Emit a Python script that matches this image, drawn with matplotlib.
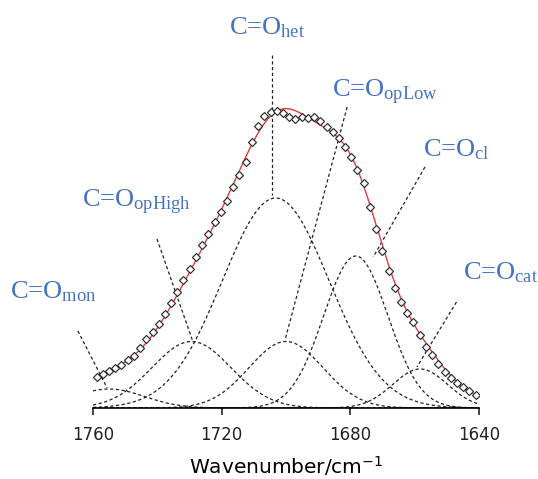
import numpy as np
import matplotlib.pyplot as plt

plt.rcParams['mathtext.fontset'] = 'custom'
plt.rcParams['mathtext.rm'] = 'Liberation Serif'
plt.rcParams['mathtext.it'] = 'Liberation Serif:italic'

# measured spectrum (wavenumber in cm-1, absorbance in arbitrary units)
wavenumber = [1758.9, 1757.0, 1755.0, 1753.1, 1751.2, 1749.2, 1747.3, 1745.4,
              1743.4, 1741.5, 1739.6, 1737.6, 1735.7, 1733.8, 1731.9, 1729.9,
              1728.0, 1726.1, 1724.1, 1722.2, 1720.3, 1718.3, 1716.4, 1714.5,
              1712.5, 1710.6, 1708.7, 1706.7, 1704.8, 1702.9, 1700.9, 1699.0,
              1697.1, 1695.1, 1693.2, 1691.3, 1689.3, 1687.4, 1685.5, 1683.6,
              1681.6, 1679.7, 1677.8, 1675.8, 1673.9, 1672.0, 1670.0, 1668.1,
              1666.2, 1664.2, 1662.3, 1660.4, 1658.4, 1656.5, 1654.6, 1652.6,
              1650.7, 1648.8, 1646.8, 1644.9, 1643.0, 1641.0]
absorbance = [31.3, 34.0, 37.0, 40.3, 43.3, 47.7, 52.3, 59.7, 68.7, 75.7,
              83.7, 93.7, 104.7, 116.3, 128.0, 139.0, 151.3, 163.0, 173.7, 185.7,
              195.7, 207.0, 220.7, 233.3, 246.3, 266.3, 282.0, 292.0, 296.0, 297.0,
              294.7, 291.3, 288.7, 291.3, 289.7, 291.3, 287.3, 281.3, 276.3, 269.7,
              261.3, 251.3, 238.0, 224.7, 201.3, 179.0, 157.0, 137.3, 120.3, 106.3,
              94.7, 86.0, 73.0, 61.5, 53.0, 44.2, 35.8, 29.7, 24.7, 21.3,
              17.5, 13.5]

# fitted gaussian bands
band_names = ['mon', 'opHigh', 'het', 'opLow', 'cl', 'cat']
band_centre = [1755.0, 1729.4, 1703.2, 1700.0, 1678.3, 1658.3]
band_height = [19.0, 66.5, 210.0, 66.5, 152.0, 39.0]
band_sigma = [11.0, 12.3, 16.6, 11.5, 10.0, 8.5]
fit_offset = 8.5

# label anchors and leader lines (start -> end)
label_pos = [(1785.8, 110), (1763.5, 201), (1717.7, 373.5),
             (1685.8, 311), (1657.5, 252), (1645.1, 129)]
leader_start = [(1764.7, 77), (1740.1, 169), (1704.4, 353),
                (1681.0, 301), (1656.8, 241), (1647.0, 106)]
leader_end = [(1755.6, 20), (1728.9, 66), (1704.4, 213),
              (1700.3, 68), (1672.9, 151), (1659.3, 41)]

blue = '#4472C4'
dash = (0, (2.6, 2.0))

fig = plt.figure(figsize=(5.38, 4.79), dpi=100)
ax = fig.add_axes([93 / 538, 71 / 479, 386 / 538, 398 / 479])

x = np.linspace(1760, 1640, 600)
for c, h, s in zip(band_centre, band_height, band_sigma):
    y = h * np.exp(-(x - c) ** 2 / (2 * s ** 2))
    ax.plot(x, y, color='#222222', lw=0.9, linestyle=dash)

# fit line (sum of bands + offset) over the measured range
xf = np.linspace(wavenumber[0], wavenumber[-1], 400)
fit = np.zeros_like(xf) + fit_offset
for c, h, s in zip(band_centre, band_height, band_sigma):
    fit += h * np.exp(-(xf - c) ** 2 / (2 * s ** 2))
ax.plot(xf, fit, color='#E8393A', lw=1.0, zorder=3)

ax.plot(wavenumber, absorbance, linestyle='none', marker='D', markersize=4.4,
        markerfacecolor='white', markeredgecolor='#2b2b2b', markeredgewidth=0.85,
        zorder=4)

for name, pos, p0, p1 in zip(band_names, label_pos, leader_start, leader_end):
    ax.plot([p0[0], p1[0]], [p0[1], p1[1]], color='#222222', lw=0.9,
            linestyle=dash, clip_on=False)
    ax.text(pos[0], pos[1], 'C=O$_{\\mathrm{' + name + '}}$', color=blue,
            fontsize=19, family='Liberation Serif', ha='left', va='baseline',
            clip_on=False)

ax.set_xlim(1760, 1640)
ax.set_ylim(0, 398)
ax.set_xticks([1760, 1720, 1680, 1640])
ax.set_yticks([])
for side in ['left', 'right', 'top']:
    ax.spines[side].set_visible(False)
ax.spines['bottom'].set_linewidth(1.2)
ax.tick_params(axis='x', direction='out', length=5, width=1.2, pad=8,
               labelsize=12, colors='#222222')
ax.set_xlabel('Wavenumber/cm$^{\\mathregular{-1}}$', fontsize=14.5, labelpad=8)

fig.savefig('out.png', dpi=100)
